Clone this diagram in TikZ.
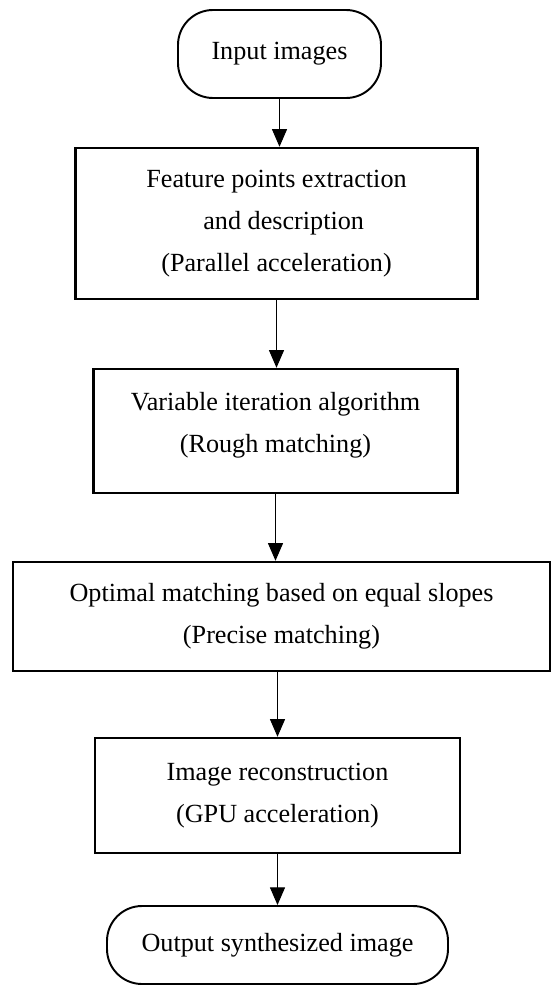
\documentclass[tikz,border=0pt]{standalone}
\usepackage{fontspec}
\setmainfont{Liberation Serif}
\usetikzlibrary{arrows.meta}

\begin{document}
\begin{tikzpicture}[>={Triangle[length=10pt,width=8.5pt]},
  box/.style={draw, line width=1.4pt, align=center, inner sep=0pt},
  term/.style={draw, line width=1.1pt, rounded corners=0.7cm, align=center, inner sep=0pt},
  font=\fontsize{14.9}{24}\selectfont]
\useasboundingbox (0,0) rectangle (11.06,-19.72);
\node[term, minimum width=4.06cm, minimum height=1.76cm] (in) at (5.59,-1.08) {Input images};
\node[box, minimum width=8.04cm, minimum height=3.02cm] (feat) at (5.53,-4.47)
  {Feature points extraction\\\hspace*{0.55em}and description\\(Parallel acceleration)};
\node[box, minimum width=7.28cm, minimum height=2.48cm, text depth=10pt] (rough) at (5.51,-8.62)
  {Variable iteration algorithm\\(Rough matching)};
\node[box, minimum width=10.74cm, minimum height=2.18cm] (slope) at (5.63,-12.33)
  {Optimal matching based on equal slopes\\(Precise matching)};
\node[box, minimum width=7.3cm, minimum height=2.3cm] (recon) at (5.55,-15.91)
  {Image reconstruction\\(GPU acceleration)};
\node[term, minimum width=6.82cm, minimum height=1.56cm] (out) at (5.55,-18.9) {Output synthesized image};
\draw[->, line width=0.6pt] (in.south) -- (in.south |- feat.north);
\draw[->, line width=0.6pt] (feat.south) -- (feat.south |- rough.north);
\draw[->, line width=0.6pt] (rough.south) -- (rough.south |- slope.north);
\draw[->, line width=0.6pt] (recon.north |- slope.south) -- (recon.north);
\draw[->, line width=0.6pt] (recon.south) -- (recon.south |- out.north);
\end{tikzpicture}
\end{document}
